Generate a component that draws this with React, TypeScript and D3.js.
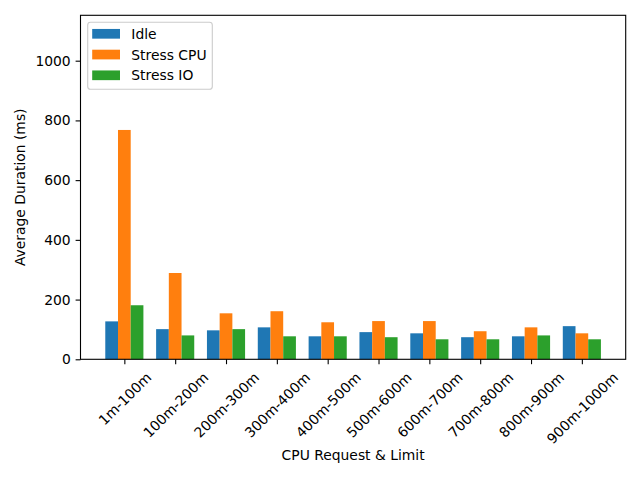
import React, { useEffect, useRef } from 'react';
import * as d3 from 'd3';

const categories = ['1m-100m', '100m-200m', '200m-300m', '300m-400m', '400m-500m', '500m-600m', '600m-700m', '700m-800m', '800m-900m', '900m-1000m'];
const idle = [127, 101, 97, 107, 77, 91, 87, 74, 77, 111];
const stressCpu = [768, 289, 154, 161, 124, 128, 128, 94, 107, 87];
const stressIo = [181, 80, 101, 77, 77, 74, 67, 67, 80, 67];
const yTicks = [0, 200, 400, 600, 800, 1000];

const seriesNames = ['Idle', 'Stress CPU', 'Stress IO'];
const seriesColors = ['#1f77b4', '#ff7f0e', '#2ca02c'];

const App: React.FC = () => {
    const svgRef = useRef<SVGSVGElement>(null);

    useEffect(() => {
        const svg = d3.select(svgRef.current);
        svg.selectAll('*').remove();

        const font = 'DejaVu Sans, sans-serif';
        const fs = 13.89;
        const left = 80.5, right = 625.7, top = 15.3, bottom = 359.3;
        const barW = 0.25;

        const series = [idle, stressCpu, stressIo];
        const n = categories.length;
        const lo = -1.5 * barW, hi = n - 1 + 1.5 * barW;
        const pad = (hi - lo) * 0.05;

        const x = d3.scaleLinear().domain([lo - pad, hi + pad]).range([left, right]);
        const yMax = d3.max(stressCpu)! * 1.5;
        const y = d3.scaleLinear().domain([0, yMax]).range([bottom, top]);

        // bars
        series.forEach((vals, s) => {
            svg.append('g')
                .attr('fill', seriesColors[s])
                .selectAll('rect')
                .data(vals)
                .enter()
                .append('rect')
                .attr('x', (d, i) => x(i + (s - 1) * barW - barW / 2))
                .attr('y', (d) => y(d))
                .attr('width', x(barW) - x(0))
                .attr('height', (d) => y(0) - y(d));
        });

        // y axis
        const yAxis = d3.axisLeft(y)
            .tickValues(yTicks)
            .tickFormat(d3.format('d'))
            .tickSize(4.9)
            .tickPadding(4.9)
            .tickSizeOuter(0);
        const gy = svg.append('g').attr('transform', `translate(${left},0)`).call(yAxis);
        gy.select('.domain').remove();
        gy.selectAll('line').attr('stroke', '#000').attr('stroke-width', 1.1);
        gy.selectAll('text').attr('font-family', font).attr('font-size', fs).attr('fill', '#000');

        // x axis
        const xAxis = d3.axisBottom(x)
            .tickValues(d3.range(n))
            .tickFormat((d) => categories[d as number])
            .tickSize(4.9)
            .tickSizeOuter(0);
        const gx = svg.append('g').attr('transform', `translate(0,${bottom})`).call(xAxis);
        gx.select('.domain').remove();
        gx.selectAll('line').attr('stroke', '#000').attr('stroke-width', 1.1);
        gx.selectAll<SVGTextElement, number>('text')
            .attr('font-family', font)
            .attr('font-size', fs)
            .attr('fill', '#000')
            .attr('text-anchor', 'middle')
            .attr('dy', null)
            .attr('y', null)
            .attr('dominant-baseline', 'central')
            .each(function () {
                const w = this.getComputedTextLength();
                const h = fs * 1.164;
                const cy = 9.8 + (w + h) * Math.SQRT1_2 / 2;
                d3.select(this).attr('transform', `translate(0,${cy}) rotate(-45)`);
            });

        // frame
        svg.append('rect')
            .attr('x', left).attr('y', top)
            .attr('width', right - left).attr('height', bottom - top)
            .attr('fill', 'none').attr('stroke', '#000').attr('stroke-width', 1.1);

        // axis labels
        svg.append('text')
            .attr('x', (left + right) / 2).attr('y', 459.5)
            .attr('text-anchor', 'middle')
            .attr('font-family', font).attr('font-size', fs)
            .text('CPU Request & Limit');
        svg.append('text')
            .attr('transform', `translate(25.3,${(top + bottom) / 2}) rotate(-90)`)
            .attr('text-anchor', 'middle')
            .attr('font-family', font).attr('font-size', fs)
            .text('Average Duration (ms)');

        // legend
        const lg = svg.append('g');
        lg.append('rect')
            .attr('x', 87.7).attr('y', 22.3).attr('width', 124.6).attr('height', 67)
            .attr('rx', 2.8)
            .attr('fill', '#fff').attr('fill-opacity', 0.8)
            .attr('stroke', '#cccccc').attr('stroke-width', 1.1);
        seriesNames.forEach((name, i) => {
            const cy = 33.8 + i * 20.75;
            lg.append('rect')
                .attr('x', 92.2).attr('y', cy - 4.85).attr('width', 27.8).attr('height', 9.7)
                .attr('fill', seriesColors[i]);
            lg.append('text')
                .attr('x', 131.3).attr('y', cy + 5)
                .attr('font-family', font).attr('font-size', fs)
                .text(name);
        });
    }, []);

    return <svg ref={svgRef} width={640} height={480} style={{ display: 'block', margin: -8 }} />;
};

export default App;
